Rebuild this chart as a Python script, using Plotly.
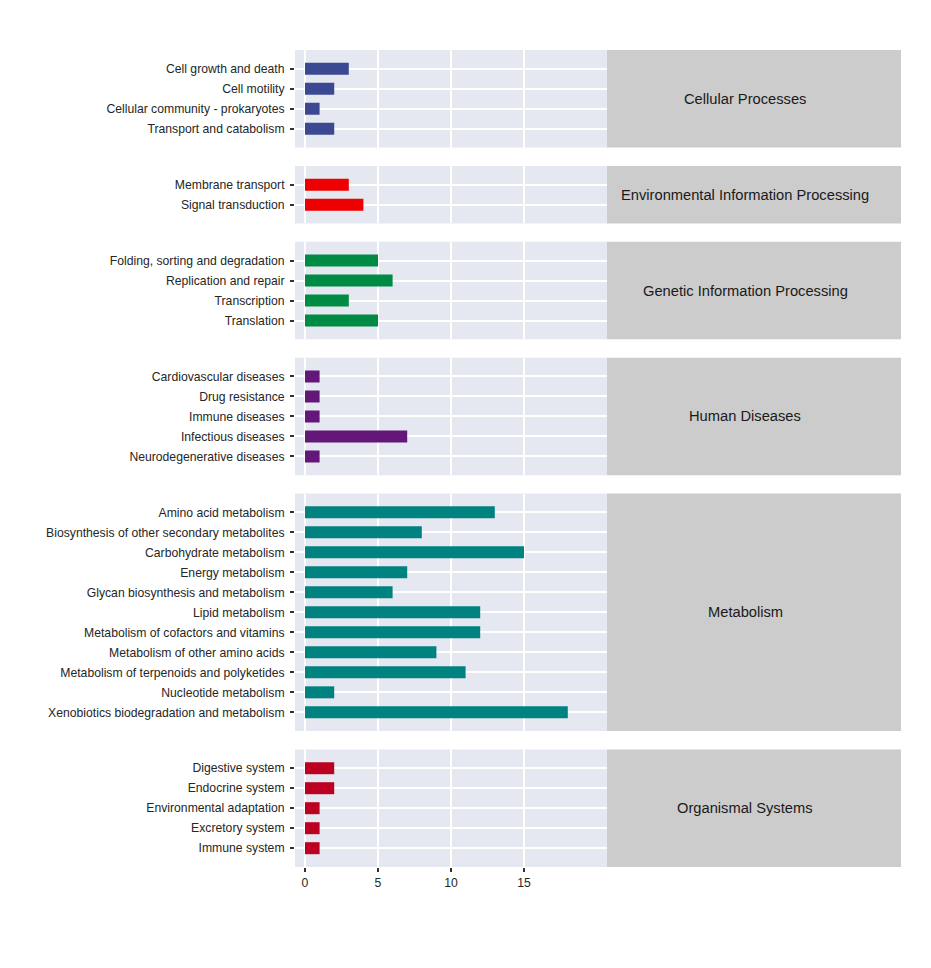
import plotly.graph_objects as go

# KEGG pathway level-1 groups, their level-2 pathways and gene counts
groups = ["Cellular Processes", "Environmental Information Processing",
          "Genetic Information Processing", "Human Diseases",
          "Metabolism", "Organismal Systems"]

cellular_terms = ["Cell growth and death", "Cell motility",
                  "Cellular community - prokaryotes", "Transport and catabolism"]
cellular_counts = [3, 2, 1, 2]

env_terms = ["Membrane transport", "Signal transduction"]
env_counts = [3, 4]

genetic_terms = ["Folding, sorting and degradation", "Replication and repair",
                 "Transcription", "Translation"]
genetic_counts = [5, 6, 3, 5]

disease_terms = ["Cardiovascular diseases", "Drug resistance", "Immune diseases",
                 "Infectious diseases", "Neurodegenerative diseases"]
disease_counts = [1, 1, 1, 7, 1]

metab_terms = ["Amino acid metabolism", "Biosynthesis of other secondary metabolites",
               "Carbohydrate metabolism", "Energy metabolism",
               "Glycan biosynthesis and metabolism", "Lipid metabolism",
               "Metabolism of cofactors and vitamins", "Metabolism of other amino acids",
               "Metabolism of terpenoids and polyketides", "Nucleotide metabolism",
               "Xenobiotics biodegradation and metabolism"]
metab_counts = [13, 8, 15, 7, 6, 12, 12, 9, 11, 2, 18]

organismal_terms = ["Digestive system", "Endocrine system", "Environmental adaptation",
                    "Excretory system", "Immune system"]
organismal_counts = [2, 2, 1, 1, 1]

colors = ["#3B4992", "#EE0000", "#008B45", "#631879", "#008280", "#BB0021"]
xticks = [0, 5, 10, 15]

terms = [cellular_terms, env_terms, genetic_terms, disease_terms, metab_terms, organismal_terms]
counts = [cellular_counts, env_counts, genetic_counts, disease_counts, metab_counts, organismal_counts]

# page has an 8px body margin, so the figure is a bit smaller than the window
W, H = 915, 952
ml, mr, mt, mb = 287, 22, 42, 93
plot_h = H - mt - mb
plot_w = W - ml - mr
step = 20.0   # px per category
pad = 0.94    # category units of padding at each end of a panel
heights = [(len(t) - 1 + 2 * pad) * step for t in terms]
gap = (plot_h - sum(heights)) / (len(terms) - 1)
panel_right = 312 / plot_w
px_per_unit = 14.6
xr = [-10 / px_per_unit, 302 / px_per_unit]
label_font = dict(family="Liberation Sans, Arial", size=12.2, color="#262626")


def clamp(v):
    return min(1.0, max(0.0, round(v, 6)))


fig = go.Figure()
top = 0.0
shapes, annotations = [], []
for i, (g, t, c) in enumerate(zip(groups, terms, counts)):
    k = i + 1
    y_top = clamp(1 - top / plot_h)
    y_bot = clamp(1 - (top + heights[i]) / plot_h)
    top += heights[i] + gap
    xa = "x" if k == 1 else f"x{k}"
    ya = "y" if k == 1 else f"y{k}"
    fig.add_trace(go.Bar(x=c, y=t, orientation="h", width=0.6,
                         marker=dict(color=colors[i], line=dict(width=0)),
                         xaxis=xa, yaxis=ya, showlegend=False))
    last = (k == len(groups))
    fig.layout[f"xaxis{k}"] = dict(
        domain=[0, panel_right], anchor=ya, range=xr, tickvals=xticks,
        showgrid=True, gridcolor="white", gridwidth=1.5, zeroline=False,
        showline=False, showticklabels=last, ticks="outside" if last else "",
        ticklen=4, tickwidth=1.5, tickcolor="#333333", tickfont=label_font)
    fig.layout[f"yaxis{k}"] = dict(
        domain=[y_bot, y_top], anchor=xa, type="category",
        categoryorder="array", categoryarray=t,
        range=[len(t) - 1 + pad, -pad],
        showgrid=True, gridcolor="white", gridwidth=1.5, zeroline=False,
        showline=False, ticks="outside", ticklen=4, tickwidth=1.5,
        tickcolor="#333333", ticklabelstandoff=3, automargin=False,
        tickfont=label_font)
    shapes.append(dict(type="rect", xref="paper", x0=panel_right, x1=1,
                       yref=f"{ya} domain", y0=0, y1=1,
                       fillcolor="#CCCCCC", line=dict(width=0), layer="below"))
    annotations.append(dict(text=g, xref="paper", x=450 / plot_w,
                            yref=f"{ya} domain", y=0.5, showarrow=False,
                            xanchor="center", yanchor="middle",
                            font=dict(family="Liberation Sans, Arial", size=14.7,
                                      color="#1A1A1A")))
    shapes.append(dict(type="rect", xref=f"{xa} domain", x0=0, x1=1,
                       yref=f"{ya} domain", y0=0, y1=1,
                       fillcolor="#E5E8F0", line=dict(width=0), layer="below"))

fig.update_layout(
    width=W, height=H, margin=dict(l=ml, r=mr, t=mt, b=mb, autoexpand=False),
    paper_bgcolor="white", plot_bgcolor="rgba(0,0,0,0)",
    shapes=shapes, annotations=annotations, bargap=0.4,
    font=dict(family="Liberation Sans, Arial"),
)

fig.write_html("out.html")
